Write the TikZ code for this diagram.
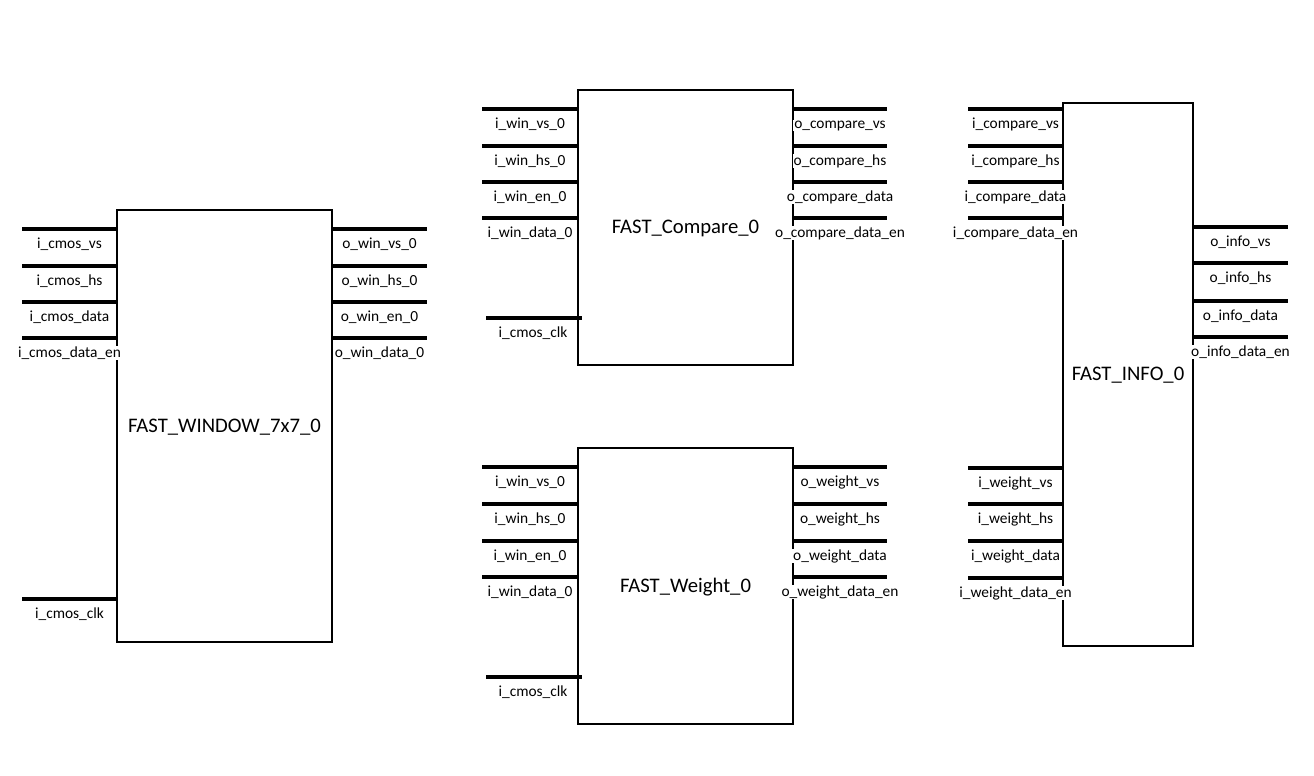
\documentclass[tikz,border=0pt]{standalone}
\usepackage{fontspec}
\setmainfont{Carlito}
\begin{document}
\begin{tikzpicture}[x=1pt,y=-1pt,
  blk/.style={draw=black,line width=1.8pt,fill=white,outer sep=0pt,inner sep=0pt,anchor=north west},
  port/.style={line width=3.8pt,line cap=butt},
  lbl/.style={fill=white,inner sep=0.8pt,anchor=base,font=\fontsize{15.4}{17}\selectfont},
  ttl/.style={inner sep=0pt,anchor=base,font=\fontsize{20.7}{24}\selectfont}]
\useasboundingbox (0,0) rectangle (1314,776);
% boxes
\node[blk,minimum width=215pt,minimum height=432pt] (win) at (117,210) {};
\node[blk,minimum width=215pt,minimum height=275pt] (cmp) at (578,90) {};
\node[blk,minimum width=215pt,minimum height=276pt] (wgt) at (578,448) {};
\node[blk,minimum width=130pt,minimum height=543pt] (inf) at (1063,103) {};
% titles
\node[ttl] (twin) at ([yshift=-6pt]win.center) {FAST\_WINDOW\_7x7\_0};
\node[ttl] (tcmp) at ([yshift=-6pt]cmp.center) {FAST\_Compare\_0};
\node[ttl] (twgt) at ([yshift=-6pt]wgt.center) {FAST\_Weight\_0};
\node[ttl] (tinf) at ([yshift=-6pt]inf.center) {FAST\_INFO\_0};
% FAST_WINDOW ports
\foreach \y/\t [count=\i] in {229/i\_cmos\_vs,266/i\_cmos\_hs,302/i\_cmos\_data,338/i\_cmos\_data\_en}{
  \coordinate (wi\i) at (22,\y);
  \draw[port] (wi\i) -- (win.west |- wi\i);
  \node[lbl] (lwi\i) at (69.5,\y+19) {\t};
}
\foreach \y/\t [count=\i] in {229/o\_win\_vs\_0,266/o\_win\_hs\_0,302/o\_win\_en\_0,338/o\_win\_data\_0}{
  \coordinate (wo\i) at (427,\y);
  \draw[port] (win.east |- wo\i) -- (wo\i);
  \node[lbl] (lwo\i) at (379.5,\y+19) {\t};
}
\coordinate (wclk) at (22,599);
\draw[port] (wclk) -- (win.west |- wclk);
\node[lbl] (lwclk) at (69.5,599+19) {i\_cmos\_clk};
% FAST_Compare ports
\foreach \y/\t [count=\i] in {109/i\_win\_vs\_0,146/i\_win\_hs\_0,182/i\_win\_en\_0,218/i\_win\_data\_0}{
  \coordinate (ci\i) at (482,\y);
  \draw[port] (ci\i) -- (cmp.west |- ci\i);
  \node[lbl] (lci\i) at (530,\y+19) {\t};
}
\foreach \y/\t [count=\i] in {109/o\_compare\_vs,146/o\_compare\_hs,182/o\_compare\_data,218/o\_compare\_data\_en}{
  \coordinate (co\i) at (887,\y);
  \draw[port] (cmp.east |- co\i) -- (co\i);
  \node[lbl] (lco\i) at (840,\y+19) {\t};
}
\coordinate (cclk) at (486,318);
\draw[port] (cclk) -- ([xshift=4pt]cmp.west |- cclk);
\node[lbl] (lcclk) at (533,318+19) {i\_cmos\_clk};
% FAST_Weight ports
\foreach \y/\t [count=\i] in {467/i\_win\_vs\_0,504/i\_win\_hs\_0,541/i\_win\_en\_0,577/i\_win\_data\_0}{
  \coordinate (gi\i) at (482,\y);
  \draw[port] (gi\i) -- (wgt.west |- gi\i);
  \node[lbl] (lgi\i) at (530,\y+19) {\t};
}
\foreach \y/\t [count=\i] in {467/o\_weight\_vs,504/o\_weight\_hs,541/o\_weight\_data,577/o\_weight\_data\_en}{
  \coordinate (go\i) at (887,\y);
  \draw[port] (wgt.east |- go\i) -- (go\i);
  \node[lbl] (lgo\i) at (840,\y+19) {\t};
}
\coordinate (gclk) at (486,677);
\draw[port] (gclk) -- ([xshift=4pt]wgt.west |- gclk);
\node[lbl] (lgclk) at (533,677+19) {i\_cmos\_clk};
% FAST_INFO ports
\foreach \y/\t [count=\i] in {109/i\_compare\_vs,146/i\_compare\_hs,182/i\_compare\_data,218/i\_compare\_data\_en}{
  \coordinate (ii\i) at (968,\y);
  \draw[port] (ii\i) -- (inf.west |- ii\i);
  \node[lbl] (lii\i) at (1015.5,\y+19) {\t};
}
\foreach \y/\t [count=\i] in {468/i\_weight\_vs,504/i\_weight\_hs,541/i\_weight\_data,578/i\_weight\_data\_en}{
  \coordinate (ij\i) at (968,\y);
  \draw[port] (ij\i) -- (inf.west |- ij\i);
  \node[lbl] (lij\i) at (1015.5,\y+19) {\t};
}
\foreach \y/\t [count=\i] in {227/o\_info\_vs,263/o\_info\_hs,301/o\_info\_data,337/o\_info\_data\_en}{
  \coordinate (io\i) at (1288,\y);
  \draw[port] (inf.east |- io\i) -- (io\i);
  \node[lbl] (lio\i) at (1240.5,\y+19) {\t};
}
\end{tikzpicture}
\end{document}
